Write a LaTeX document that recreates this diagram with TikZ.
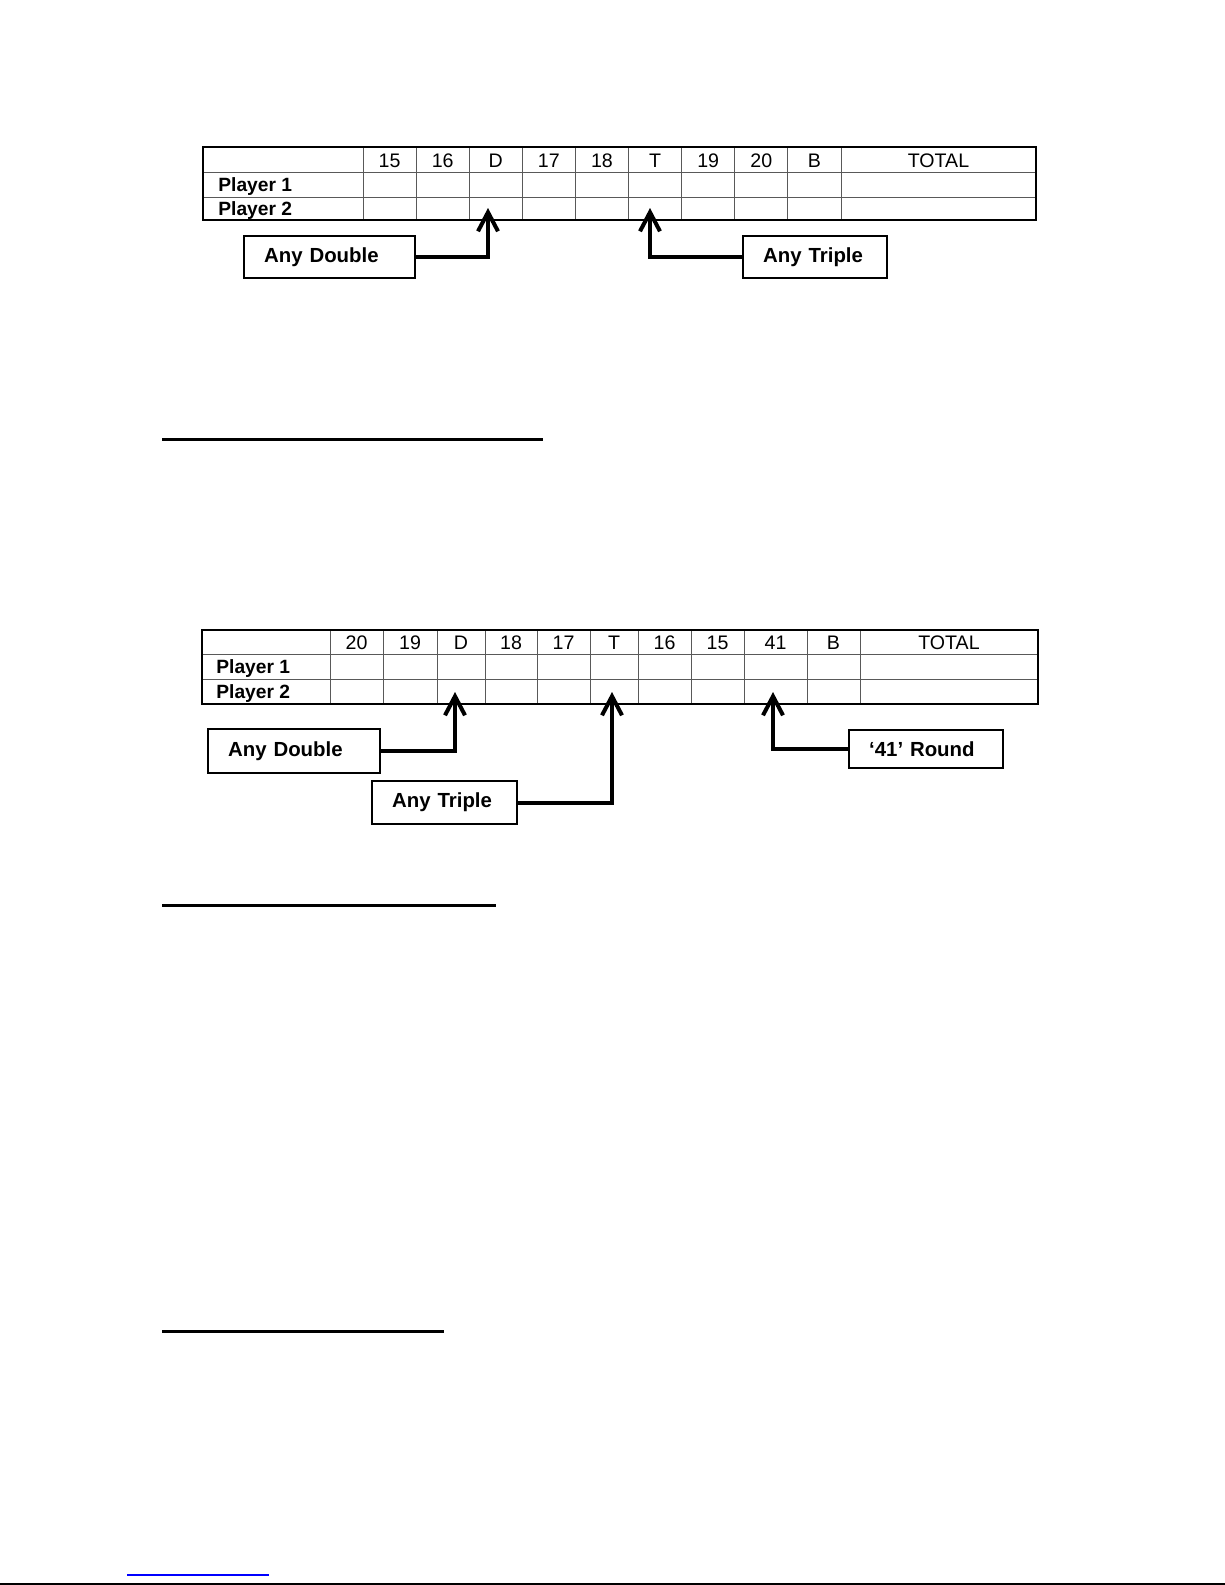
\documentclass[tikz,border=0pt]{standalone}
\usepackage{fontspec}
\setmainfont{Liberation Sans}
\usetikzlibrary{arrows.meta}
\begin{document}
\begin{tikzpicture}[x=0.5pt,y=-0.5pt,
  grid/.style={line width=0.5pt, draw=gray!70!black},
  frame/.style={line width=0.7pt, draw=black},
  hdr/.style={anchor=base, inner sep=0pt, font=\fontsize{9.8pt}{12pt}\selectfont},
  plr/.style={anchor=base west, inner sep=0pt, font=\fontsize{9.6pt}{12pt}\selectfont\bfseries},
  callout/.style={draw, line width=1.2pt, anchor=north west, inner xsep=10pt, inner ysep=0pt, align=left, font=\fontsize{10.2pt}{12pt}\selectfont\bfseries},
  pointer/.style={line width=2pt, -{Straight Barb[length=9.5pt,width=10pt,line width=2pt]}},
  rule/.style={line width=1.5pt}]
\useasboundingbox (0,0) rectangle (1225,1585);

% ---------- top table ----------
\draw[grid] (203,172) -- (1036,172);
\draw[grid] (203,197) -- (1036,197);
\foreach \x in {363,416.1,469.2,522.3,575.4,628.5,681.6,734.7,787.8,841}
  \draw[grid] (\x,147) -- (\x,220);
\draw[frame] (203,147) rectangle (1036,220);
\foreach \lab [count=\i] in {15,16,D,17,18,T,19,20,B}
  \node[hdr] (ta\i) at ({363+53.1*(\i-0.5)},167) {\lab};
\node[hdr] (tatot) at (938.5,167) {TOTAL};
\node[plr] (ta-p1) at (218,191) {Player 1};
\node[plr] (ta-p2) at (218,215) {Player 2};

\node[callout, minimum width=85.5pt, minimum height=21pt, text width=65.5pt] (dblA) at (243,235) {Any Double};
\node[callout, minimum width=72pt, minimum height=21pt, text width=52pt] (trpA) at (742,235) {Any Triple};
\coordinate (tipDA) at (488,208);
\coordinate (tipTA) at (650,208);
\draw[pointer] (dblA.east) -| (tipDA);
\draw[pointer] (trpA.west) -| (tipTA);

% ---------- underline ----------
\draw[rule] (162,439) -- (543,439);

% ---------- bottom table ----------
\draw[grid] (202,654) -- (1038,654);
\draw[grid] (202,679) -- (1038,679);
\foreach \x in {330,383,437,485,537,590,638,691,744,807,860}
  \draw[grid] (\x,630) -- (\x,704);
\draw[frame] (202,630) rectangle (1038,704);
\foreach \a/\b/\lab [count=\i] in {330/383/20,383/437/19,437/485/D,485/537/18,537/590/17,590/638/T,638/691/16,691/744/15,744/807/41,807/860/B,860/1038/TOTAL}
  \node[hdr] (tb\i) at ({(\a+\b)/2},649) {\lab};
\node[plr] (tb-p1) at (216,673) {Player 1};
\node[plr] (tb-p2) at (216,698) {Player 2};

\node[callout, minimum width=86pt, minimum height=22pt, text width=66pt] (dblB) at (207,728) {Any Double};
\node[callout, minimum width=72.5pt, minimum height=21.5pt, text width=52.5pt] (trpB) at (371,780) {Any Triple};
\node[callout, minimum width=77pt, minimum height=19pt, text width=57pt] (rndB) at (848,729) {‘41’ Round};
\coordinate (tipDB) at (455,692);
\coordinate (tipTB) at (612,692);
\coordinate (tipRB) at (773,692);
\draw[pointer] (dblB.east) -| (tipDB);
\draw[pointer] (trpB.east) -| (tipTB);
\draw[pointer] (rndB.west) -| (tipRB);

% ---------- underlines ----------
\draw[rule] (162,905) -- (496,905);
\draw[rule] (162,1331) -- (444,1331);

% ---------- page foot ----------
\draw[blue, line width=0.6pt] (127,1575) -- (269,1575);
\draw[black, line width=0.6pt] (0,1584) -- (1225,1584);
\end{tikzpicture}
\end{document}
